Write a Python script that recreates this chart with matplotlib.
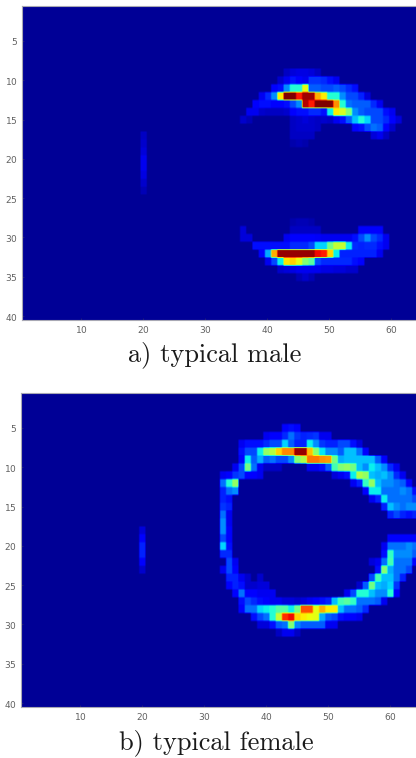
import matplotlib
matplotlib.use("Agg")
import numpy as np
import matplotlib.pyplot as plt

# image size in pixels
W, H = 416, 758
n_rows, n_cols = 40, 64

x_ticks = [10, 20, 30, 40, 50, 60]
y_ticks = [5, 10, 15, 20, 25, 30, 35, 40]
captions = ["a) typical male", "b) typical female"]

# (row, first column, values), scale 0-100
male_upper = [
    (9, 43, [4, 6, 7, 7, 6, 4]),
    (10, 42, [5, 8, 13, 10, 8, 16, 16, 15, 12, 8]),
    (11, 41, [10, 12, 25, 38, 38, 62, 20, 20, 18, 18, 20, 18, 15, 12]),
    (12, 39, [8, 15, 25, 65, 100, 100, 88, 97, 97, 72, 65, 38, 38, 25, 18, 18, 14, 6]),
    (13, 38, [10, 12, 12, 10, 10, 12, 18, 25, 95, 88, 100, 100, 100, 75, 38, 22, 20, 20, 20, 15, 8]),
    (14, 37, [8, 8, 5, 4, 4, 4, 5, 10, 12, 12, 15, 15, 12, 35, 65, 60, 50, 25, 20, 18, 18, 18, 12, 8]),
    (15, 36, [5, 3, 0, 0, 0, 0, 0, 0, 4, 5, 6, 5, 4, 5, 4, 8, 12, 20, 30, 38, 32, 18, 18, 15, 10, 6]),
    (16, 44, [4, 5, 5, 5, 4, 0, 0, 0, 0, 0, 10, 12, 18, 22, 20, 10, 5]),
    (17, 44, [4, 4, 4, 4, 0, 0, 0, 0, 0, 0, 0, 0, 0, 6, 8, 4]),
    (18, 44, [2, 3, 2]),
]
male_lower = [
    (28, 44, [2, 3, 3, 2]),
    (29, 36, [6, 0, 0, 0, 0, 0, 0, 0, 4, 4, 4, 4, 4, 0, 0, 0, 0, 0, 0, 10, 10, 10, 10]),
    (30, 36, [6, 6, 0, 0, 0, 0, 0, 8, 10, 10, 10, 10, 9, 8, 8, 8, 8, 8, 12, 18, 25, 18, 15, 8]),
    (31, 38, [12, 12, 12, 12, 12, 12, 15, 15, 15, 18, 32, 32, 48, 58, 58, 35, 15, 14, 15, 15, 12, 8]),
    (32, 39, [10, 28, 72, 98, 98, 98, 98, 98, 98, 90, 88, 68, 35, 14, 14, 14, 14, 14, 14, 8]),
    (33, 40, [8, 18, 35, 66, 68, 62, 50, 45, 18, 15, 15, 15, 15, 15, 12, 10]),
    (34, 42, [5, 6, 7, 8, 8, 8, 8, 7, 7, 6, 6, 5, 5]),
    (35, 45, [3, 5, 3]),
]
male_streak = [(17, 20, [4]), (18, 20, [5]), (19, 20, [6]), (20, 20, [8]),
               (21, 20, [8]), (22, 20, [7]), (23, 20, [5]), (24, 20, [3])]

female_upper = [
    (5, 43, [10, 12, 10]),
    (6, 40, [8, 10, 10, 15, 22, 16, 14, 15, 16, 8, 8]),
    (7, 36, [8, 12, 12, 12, 15, 18, 18, 32, 20, 14, 14, 35, 25, 16, 14, 14, 18, 18, 12, 6]),
    (8, 36, [12, 18, 18, 35, 52, 56, 68, 76, 76, 98, 98, 70, 50, 34, 25, 25, 20, 30, 30, 22, 10]),
    (9, 36, [10, 35, 20, 28, 20, 22, 18, 18, 25, 50, 55, 78, 78, 75, 74, 48, 28, 30, 30, 30, 30, 30, 20, 10]),
    (10, 35, [8, 18, 48, 22, 8, 4, 4, 4, 0, 0, 0, 0, 8, 8, 12, 20, 42, 50, 52, 48, 30, 25, 35, 30, 25, 15, 8]),
    (11, 33, [8, 10, 16, 18, 10, 10, 8, 0, 0, 0, 0, 0, 0, 0, 0, 0, 0, 0, 6, 8, 12, 35, 55, 52, 30, 28, 30, 25, 15, 8]),
    (12, 33, [22, 38, 52]),
    (12, 54, [8, 14, 40, 52, 30, 25, 25, 22, 20, 10]),
    (13, 33, [14, 22, 25]),
    (13, 56, [10, 35, 35, 22, 22, 22, 25, 22, 12]),
    (14, 33, [14, 12]),
    (14, 57, [8, 14, 35, 22, 22, 22, 22, 18]),
    (15, 33, [16, 14]),
    (15, 59, [14, 30, 25, 22, 25, 25]),
    (16, 33, [22, 8]),
    (16, 60, [14, 18, 14, 12, 14]),
    (17, 33, [25, 8]),
]
female_lower = [
    (18, 33, [25, 10]),
    (19, 33, [18, 10]),
    (19, 60, [10, 10, 10, 10, 10]),
    (20, 33, [32, 12]),
    (20, 59, [8, 22, 22, 22, 25, 22]),
    (21, 33, [15, 15]),
    (21, 59, [12, 40, 25, 25, 25, 20]),
    (22, 34, [18, 8]),
    (22, 57, [6, 8, 22, 42, 22, 22, 22, 10]),
    (23, 33, [8, 18, 10]),
    (23, 58, [12, 50, 28, 22, 22, 18]),
    (24, 34, [14, 14, 8, 5, 0, 5]),
    (24, 57, [18, 42, 30, 30, 22, 14]),
    (25, 34, [10, 14, 12, 5, 5, 6, 6]),
    (25, 55, [5, 20, 48, 30, 28, 32, 16]),
    (26, 35, [10, 22, 10, 10, 8, 8, 8]),
    (26, 53, [8, 18, 38, 38, 30, 25, 25, 38, 10]),
    (27, 36, [12, 18, 15, 12, 10, 8, 8, 6, 6, 5, 6, 8, 10, 12, 14, 30, 42, 45, 40, 22, 22, 22, 20, 8]),
    (28, 36, [10, 22, 22, 32, 35, 38, 44, 44, 35, 48, 82, 82, 62, 72, 65, 65, 30, 22, 22, 20, 15]),
    (29, 38, [12, 18, 22, 38, 58, 86, 90, 68, 65, 63, 62, 28, 20, 18, 12, 10, 10, 8]),
    (30, 39, [6, 6, 12, 20, 22, 50, 24, 20, 20, 20, 20, 8, 8]),
    (31, 42, [4, 8, 8, 4]),
]
female_streak = [(18, 20, [6]), (19, 20, [10]), (20, 20, [14]),
                 (21, 20, [14]), (22, 20, [10]), (23, 20, [5])]


def build_grid(*parts):
    grid = np.zeros((n_rows, n_cols))
    for part in parts:
        for row, col, vals in part:
            grid[row - 1, col - 1:col - 1 + len(vals)] = vals
    return grid


def soften(grid, up=8, win=2):
    # the scan is slightly blurred, a small box filter on an upsampled grid gets close
    big = np.kron(grid, np.ones((up, up)))
    kernel = np.ones(win) / win
    big = np.apply_along_axis(lambda v: np.convolve(v, kernel, mode="same"), 0, big)
    big = np.apply_along_axis(lambda v: np.convolve(v, kernel, mode="same"), 1, big)
    return big


def draw_panel(box, grid, caption, cap_xy):
    left, top, right, bottom = box
    ax = fig.add_axes([left / W, 1 - bottom / H, (right - left) / W, (bottom - top) / H])
    ax.imshow(soften(grid), cmap="jet", vmin=-2, vmax=100, aspect="auto",
              interpolation="bilinear",
              extent=[0.5, n_cols + 0.5, n_rows + 0.5, 0.5])
    ax.set_xticks(x_ticks)
    ax.set_yticks(y_ticks)
    ax.tick_params(labelsize=6.5, length=1.5, width=0.4, direction="in", pad=3,
                   labelcolor="#606060", color="#333366")
    for sp in ax.spines.values():
        sp.set_color("#a8a8b4")
        sp.set_linewidth(0.8)
    fig.text(cap_xy[0] / W, 1 - cap_xy[1] / H, caption, family="cmr10",
             fontsize=19, ha="center", va="center", color="#1a1a1a")


plt.rcParams["axes.formatter.use_mathtext"] = True
fig = plt.figure(figsize=(W / 100, H / 100), dpi=100)

male = build_grid(male_upper, male_lower, male_streak)
female = build_grid(female_upper, female_lower, female_streak)

draw_panel((22, 5.6, 419, 320), male, captions[0], (215, 355))
draw_panel((21, 392.5, 418, 707), female, captions[1], (216, 743))

fig.savefig("out.png", dpi=100)
